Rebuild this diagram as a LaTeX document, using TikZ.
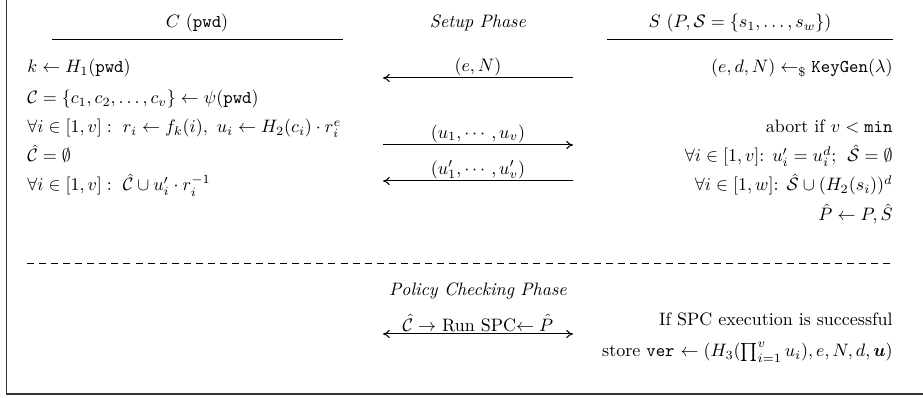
\documentclass[tikz,border=0pt]{standalone}
\usepackage{amsmath,amssymb}
\usepackage{tikz}
\usetikzlibrary{arrows.meta,positioning}
\newcommand{\pwd}{\texttt{pwd}}

\begin{document}
\begin{tikzpicture}[
x=0.5556pt,y=-0.5556pt,
lft/.style={anchor=base west,inner sep=0pt},
rgt/.style={anchor=base east,inner sep=0pt},
hdr/.style={anchor=base,inner sep=0pt},
msg/.style={{To[length=1.3mm,width=1.6mm]}-,line width=0.55pt},
both/.style={{To[length=1.3mm,width=1.6mm]}-{To[length=1.3mm,width=1.6mm]},line width=0.55pt},
lbl/.style={above,inner sep=1pt}
]
\useasboundingbox (0,0) rectangle (923,398);
% frame
\draw[line width=0.8pt,black!80] (6.5,0) -- (6.5,394) -- (923,394);

% headers
\node[hdr] (client) at (197,28) {$C~(\pwd)$};
\node[hdr] (setup) at (478,28) {\textit{Setup Phase}};
\node[hdr] (server) at (740,28) {$S~(P,\mathcal{S}=\{s_1,\dots,s_w\})$};
\draw[line width=0.55pt] (52,40) coordinate (cl) -- (343,40) coordinate (cr);
\draw[line width=0.55pt] (607,40) coordinate (sl) -- (893,40) coordinate (sr);

% client side
\node[lft] (c1) at (27,73) {$k\leftarrow H_1(\pwd)$};
\node[lft] (c2) at (27,104) {$\mathcal{C}=\{c_1,c_2,\dots,c_v\}\leftarrow\psi(\pwd)$};
\node[lft] (c3) at (27,133) {$\forall i\in[1,v]:\ r_i\leftarrow f_k(i),\ u_i\leftarrow H_2(c_i)\cdot r_i^e$};
\node[lft] (c4) at (27,162) {$\hat{\mathcal{C}}=\emptyset$};
\node[lft] (c5) at (27,191) {$\forall i\in[1,v]:\ \hat{\mathcal{C}}\cup u_i'\cdot r_i^{-1}$};

% server side
\node[rgt] (s1) at (893,73) {$(e,d,N)\leftarrow_{\$}\texttt{KeyGen}(\lambda)$};
\node[rgt] (s3) at (893,133) {abort if $v<\texttt{min}$};
\node[rgt] (s4) at (893,162) {$\forall i\in[1,v]$: $u_i'=u_i^d$;\;\ $\hat{\mathcal{S}}=\emptyset$};
\node[rgt] (s5) at (893,191) {$\forall i\in[1,w]$: $\hat{\mathcal{S}}\cup(H_2(s_i))^d$};
\node[rgt] (s6) at (893,221) {$\hat{P}\leftarrow P,\hat{S}$};

% messages
\coordinate (m1l) at (383,78);  \coordinate (m1r) at (573,78);
\coordinate (m2l) at (383,145); \coordinate (m2r) at (573,145);
\coordinate (m3l) at (383,181); \coordinate (m3r) at (573,181);
\draw[msg] (m1l) -- node[lbl] (en) {$(e,N)$} (m1r);
\draw[msg] (m2r) -- node[lbl] (us) {$(u_1,\cdots,u_v)$} (m2l);
\draw[msg] (m3l) -- node[lbl] (ups) {$(u_1',\cdots,u_v')$} (m3r);

% policy checking
\draw[dash pattern=on 3.9pt off 2.8pt,line width=0.55pt] (27,264) coordinate (dl) -- (893,264) coordinate (dr);
\node[hdr] (policy) at (478,296) {\textit{Policy Checking Phase}};
\coordinate (p1l) at (383,334); \coordinate (p1r) at (573,334);
\draw[both] (p1l) -- node[lbl] (spc) {$\hat{\mathcal{C}}\rightarrow$ Run SPC$\leftarrow\hat{P}$} (p1r);
\node[rgt] (ok) at (893,326) {If SPC execution is successful};
\node[rgt] (store) at (893,357) {store \texttt{ver} $\leftarrow(H_3(\prod_{i=1}^{v}u_i),e,N,d,\boldsymbol{u})$};
\end{tikzpicture}
\end{document}
